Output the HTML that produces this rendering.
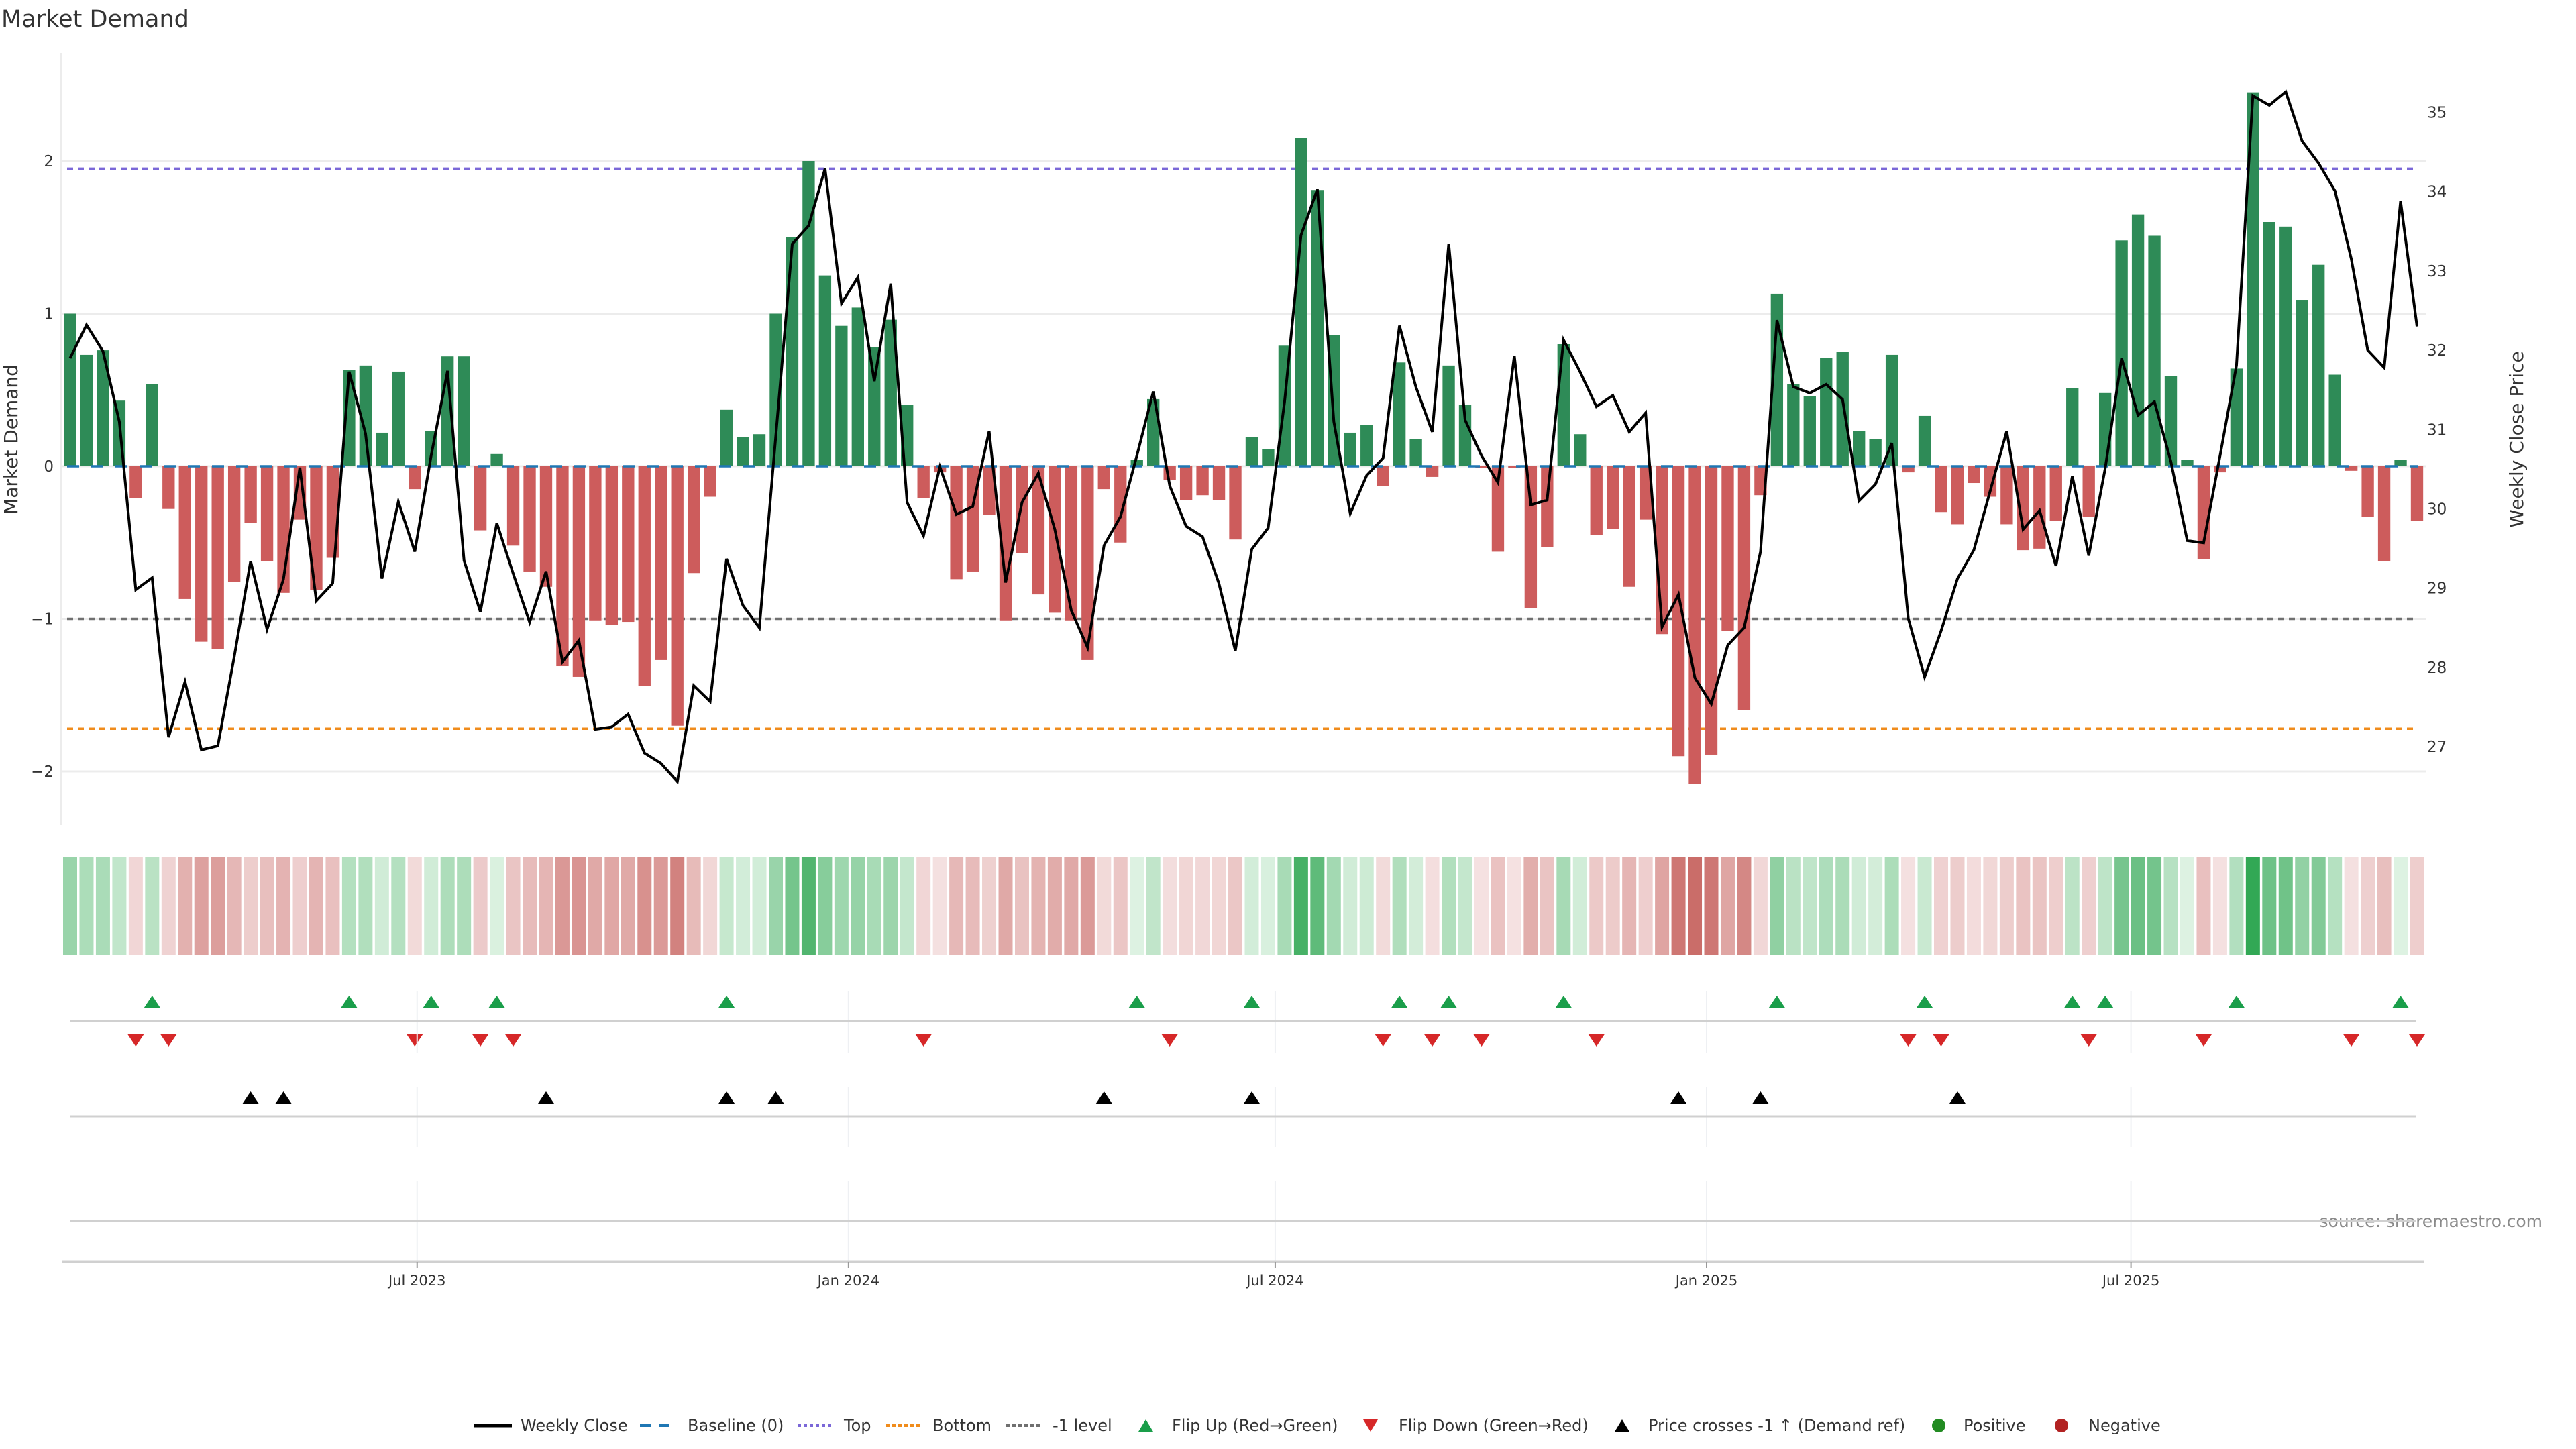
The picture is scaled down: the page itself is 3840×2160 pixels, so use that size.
<!DOCTYPE html>
<html><head><meta charset="utf-8"><style>
html,body{margin:0;padding:0;background:#fff;}
svg{display:block;font-family:"DejaVu Sans","Liberation Sans",sans-serif;}
</style></head><body>
<svg id="chart" width="3840" height="2160" viewBox="0 0 3840 2160" xmlns="http://www.w3.org/2000/svg">
<text x="2" y="40" font-size="35" fill="#333">Market Demand</text>
<text transform="translate(26,655) rotate(-90)" text-anchor="middle" font-size="28" fill="#333">Market Demand</text>
<text transform="translate(3761,655) rotate(-90)" text-anchor="middle" font-size="28" fill="#333">Weekly Close Price</text>
<text x="3790" y="1829" text-anchor="end" font-size="25" fill="#8a8a8a">source: sharemaestro.com</text>
<g id="grid"></g><g id="refs"></g><g id="bars"></g><g id="line"></g><g id="heat"></g><g id="markers"></g><g id="xaxis"></g><g id="legend"></g>
</svg>
<script>
const demand=[1.0,0.73,0.76,0.43,-0.21,0.54,-0.28,-0.87,-1.15,-1.2,-0.76,-0.37,-0.62,-0.83,-0.35,-0.81,-0.6,0.63,0.66,0.22,0.62,-0.15,0.23,0.72,0.72,-0.42,0.08,-0.52,-0.69,-0.79,-1.31,-1.38,-1.01,-1.04,-1.02,-1.44,-1.27,-1.7,-0.7,
-0.2,0.37,0.19,0.21,1.0,1.5,2.0,1.25,0.92,1.04,0.78,0.96,0.4,-0.21,-0.04,-0.74,-0.69,-0.32,-1.01,-0.57,-0.84,-0.96,-1.01,-1.27,-0.15,-0.5,0.04,0.44,-0.09,-0.22,-0.19,-0.22,-0.48,0.19,0.11,0.79,2.15,1.81,
0.86,0.22,0.27,-0.13,0.68,0.18,-0.07,0.66,0.4,-0.01,-0.56,-0.01,-0.93,-0.53,0.8,0.21,-0.45,-0.41,-0.79,-0.35,-1.1,-1.9,-2.08,-1.89,-1.08,-1.6,-0.19,1.13,0.54,0.46,0.71,0.75,0.23,0.18,0.73,-0.04,0.33,
-0.3,-0.38,-0.11,-0.2,-0.38,-0.55,-0.54,-0.36,0.51,-0.33,0.48,1.48,1.65,1.51,0.59,0.04,-0.61,-0.04,0.64,2.45,1.6,1.57,1.09,1.32,0.6,-0.03,-0.33,-0.62,0.04,-0.36];
const closePrice=[31.90,32.32,31.99,31.10,28.98,29.13,27.12,27.82,26.96,27.01,28.13,29.34,28.48,29.11,30.52,28.84,29.06,31.73,30.95,29.12,30.09,29.46,30.67,31.74,29.35,28.70,29.82,29.18,28.57,29.21,28.07,28.34,27.22,27.25,27.41,26.92,26.79,26.56,27.77,
27.57,29.37,28.78,28.50,30.92,33.34,33.57,34.29,32.59,32.92,31.61,32.84,30.08,29.66,30.53,29.93,30.03,30.98,29.07,30.08,30.45,29.74,28.72,28.25,29.54,29.90,30.67,31.48,30.29,29.78,29.65,29.06,28.21,29.49,29.76,31.35,33.45,
34.03,31.10,29.94,30.42,30.64,32.31,31.54,30.97,33.34,31.12,30.67,30.33,31.93,30.05,30.11,32.13,31.73,31.29,31.43,30.97,31.21,28.51,28.92,27.87,27.54,28.28,28.50,29.46,32.38,31.54,31.46,31.57,31.38,30.10,30.31,30.83,28.62,27.88,
28.46,29.12,29.48,30.23,30.98,29.74,29.98,29.28,30.41,29.41,30.51,31.90,31.18,31.35,30.60,29.60,29.57,30.67,31.81,35.21,35.09,35.26,34.64,34.36,34.01,33.15,32.00,31.78,33.88,32.30];
const crossIdx=[11,13,29,40,43,63,72,98,103,115];
const refLevels=[1.95,-1.72,-1];
const leftTicks=[2,1,0,-1,-2];
const rightTicks=[27,28,29,30,31,32,33,34,35];
const dateTickLabels=["Jul 2023","Jan 2024","Jul 2024","Jan 2025","Jul 2025"];
const dateTickDays=[148,332,514,698,879];

const NS="http://www.w3.org/2000/svg";
function mk(tag,attrs,parent){const e=document.createElementNS(NS,tag);for(const k in attrs)e.setAttribute(k,attrs[k]);parent.appendChild(e);return e;}
const X0=104.5,DX=24.465;
const xw=k=>X0+DX*k;
const xd=d=>X0+DX*d/7;
const yL=v=>695-227.5*v;
const yR=p=>167.5+(35-p)*118.2;
const G=id=>document.getElementById(id);

const grid=G('grid');
leftTicks.forEach(v=>{
  const l=mk('line',{x1:92,x2:3616,y1:yL(v),y2:yL(v),stroke:'#ececec','stroke-width':3},grid);
  
  
  const t=mk('text',{x:80,y:yL(v)+8,'text-anchor':'end','font-size':23,fill:'#333'},grid);
  t.textContent=v<0?'\u2212'+Math.abs(v):String(v);
  
  
});
const sp=mk('line',{x1:91,x2:91,y1:79,y2:1230,stroke:'#ececec','stroke-width':3},grid);


rightTicks.forEach(p=>{
  const t=mk('text',{x:3618,y:yR(p)+8,'font-size':23,fill:'#333'},grid);
  t.textContent=String(p);
  
  
});

const refs=G('refs');
const refColors=['#7b68d8','#f08c1c','#707070'];
const refNames=['top-line','bottom-line','minus-one-level-line'];
refLevels.forEach((v,i)=>{
  const l=mk('line',{x1:100,x2:3604,y1:yL(v),y2:yL(v),stroke:refColors[i],'stroke-width':3.5,'stroke-dasharray':'9 7'},refs);
  
  
});

const bars=G('bars');
const bw=DX*0.75;
demand.forEach((v,k)=>{
  const y0=yL(0),y1=yL(v);
  const r=mk('rect',{x:xw(k)-bw/2,y:Math.min(y0,y1),width:bw,height:Math.max(1,Math.abs(y1-y0)),fill:v>=0?'#2e8b57':'#cd5c5c'},bars);
  
  
});
const bl=mk('line',{x1:100,x2:3604,y1:yL(0),y2:yL(0),stroke:'#1f77b4','stroke-width':3.5,'stroke-dasharray':'18 18'},bars);



const pts=closePrice.map((p,k)=>xw(k).toFixed(1)+','+yR(p).toFixed(1)).join(' ');
const pl=mk('polyline',{points:pts,fill:'none',stroke:'#000','stroke-width':4,'stroke-linejoin':'miter'},G('line'));



function heatColor(v){
  if(v>=0){const t=Math.min(v/2.5,1);return `rgb(${Math.round(224-178*t)},${Math.round(243-77*t)},${Math.round(228-146*t)})`;}
  const t=Math.min(-v/2.2,1);return `rgb(${Math.round(245-45*t)},${Math.round(226-124*t)},${Math.round(226-128*t)})`;
}
const heat=G('heat');
demand.forEach((v,k)=>{
  const r=mk('rect',{x:xw(k)-10.5,y:1278,width:21,height:146,fill:heatColor(v)},heat);
  
  
});

const xa=G('xaxis');
[[1478,1570],[1620,1710],[1760,1881]].forEach(s=>{
  dateTickDays.forEach(d=>{
    const l=mk('line',{x1:xd(d),x2:xd(d),y1:s[0],y2:s[1],stroke:'#eef0f3','stroke-width':2},xa);
    
    
  });
});
[1522,1664,1820].forEach(y=>{
  const l=mk('line',{x1:104,x2:3602,y1:y,y2:y,stroke:'#d0d0d0','stroke-width':3},xa);
  
  
});
const ax=mk('line',{x1:93,x2:3614,y1:1881,y2:1881,stroke:'#d0d0d0','stroke-width':3},xa);


dateTickDays.forEach((d,i)=>{
  const tk=mk('line',{x1:xd(d),x2:xd(d),y1:1881,y2:1890,stroke:'#999','stroke-width':2},xa);
  
  
  const t=mk('text',{x:xd(d),y:1916,'text-anchor':'middle','font-size':21,fill:'#333'},xa);
  t.textContent=dateTickLabels[i];
  
  
});

const mg=G('markers');
function tri(cx,cy,up,color,name){
  const w=12,h=9;
  const p=up?`${cx-w},${cy+h} ${cx+w},${cy+h} ${cx},${cy-h}`:`${cx-w},${cy-h} ${cx+w},${cy-h} ${cx},${cy+h}`;
  const e=mk('polygon',{points:p,fill:color},mg);
  
  
}
for(let k=1;k<demand.length;k++){
  if(demand[k-1]<0&&demand[k]>=0)tri(xw(k),1493,true,'#1a9e4a','flip-up-marker');
  if(demand[k-1]>=0&&demand[k]<0)tri(xw(k),1551,false,'#d62728','flip-down-marker');
}
crossIdx.forEach(k=>tri(xw(k),1636,true,'#000','price-cross-marker'));

const lg=G('legend');
const LY=2125;
function ltext(x,s){const t=mk('text',{x:x,y:LY+8,'font-size':24,fill:'#333'},lg);t.textContent=s;}
function lline(x1,x2,color,dash,name){const l=mk('line',{x1:x1,x2:x2,y1:LY,y2:LY,stroke:color,'stroke-width':dash?4:5,'stroke-dasharray':dash||'none'},lg);}
lline(707,763,'#000',null,'legend-weekly-close');ltext(776,'Weekly Close');
lline(954,1008,'#1f77b4','16 12','legend-baseline');ltext(1025,'Baseline (0)');
lline(1189,1243,'#7b68d8','5 4','legend-top');ltext(1258,'Top');
lline(1321,1375,'#f08c1c','5 4','legend-bottom');ltext(1390,'Bottom');
lline(1500,1554,'#707070','5 4','legend-minus-one');ltext(1569,'-1 level');
function ltri(cx,up,color,name){const w=11,h=9;const p=up?`${cx-w},${LY+h} ${cx+w},${LY+h} ${cx},${LY-h}`:`${cx-w},${LY-h} ${cx+w},${LY-h} ${cx},${LY+h}`;const e=mk('polygon',{points:p,fill:color},lg);}
ltri(1708,true,'#1a9e4a','legend-flip-up');ltext(1747,'Flip Up (Red\u2192Green)');
ltri(2043,false,'#d62728','legend-flip-down');ltext(2085,'Flip Down (Green\u2192Red)');
ltri(2418,true,'#000','legend-price-cross');ltext(2457,'Price crosses -1 \u2191 (Demand ref)');
const c1=mk('circle',{cx:2890,cy:LY,r:10,fill:'#228b22'},lg);ltext(2927,'Positive');
const c2=mk('circle',{cx:3073,cy:LY,r:10,fill:'#b22222'},lg);ltext(3113,'Negative');
</script>
</body></html>
